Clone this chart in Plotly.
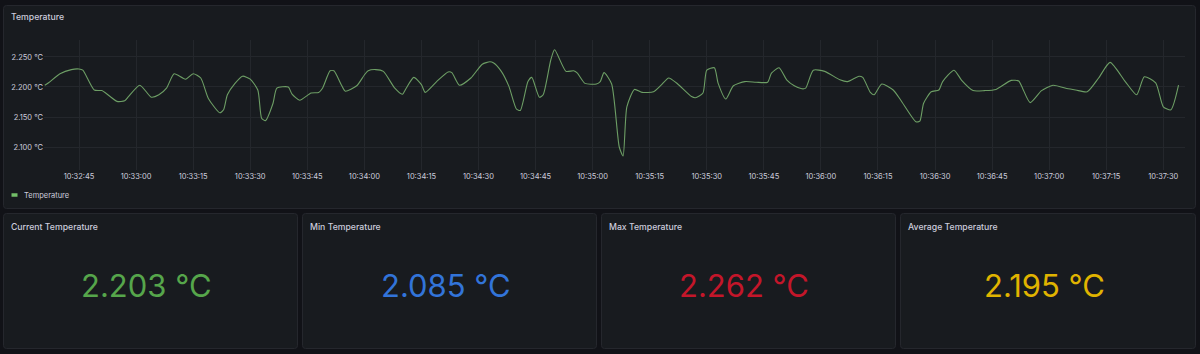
import plotly.graph_objects as go

# ---------------- data ----------------
times = [
    "10:32:36", "10:32:37", "10:32:40", "10:32:43", "10:32:45", "10:32:46", "10:32:49", "10:32:51",
    "10:32:52", "10:32:55", "10:32:57", "10:32:58", "10:33:01", "10:33:04", "10:33:06", "10:33:08",
    "10:33:10", "10:33:13", "10:33:15", "10:33:17", "10:33:19", "10:33:22", "10:33:23", "10:33:24",
    "10:33:26", "10:33:28", "10:33:30", "10:33:32", "10:33:33", "10:33:34", "10:33:36", "10:33:37",
    "10:33:40", "10:33:41", "10:33:43", "10:33:46", "10:33:48", "10:33:49", "10:33:51", "10:33:52",
    "10:33:54", "10:33:55", "10:33:58", "10:34:00", "10:34:01", "10:34:03", "10:34:05", "10:34:08",
    "10:34:10", "10:34:11", "10:34:13", "10:34:15", "10:34:16", "10:34:19", "10:34:22", "10:34:23",
    "10:34:25", "10:34:28", "10:34:31", "10:34:33", "10:34:34", "10:34:36", "10:34:38", "10:34:40",
    "10:34:41", "10:34:43", "10:34:44", "10:34:46", "10:34:47", "10:34:49", "10:34:50", "10:34:53",
    "10:34:55", "10:34:56", "10:34:58", "10:35:01", "10:35:02", "10:35:03", "10:35:05", "10:35:07",
    "10:35:08", "10:35:09", "10:35:11", "10:35:13", "10:35:16", "10:35:18", "10:35:20", "10:35:22",
    "10:35:26", "10:35:27", "10:35:29", "10:35:30", "10:35:32", "10:35:33", "10:35:35", "10:35:37",
    "10:35:40", "10:35:43", "10:35:46", "10:35:47", "10:35:49", "10:35:51", "10:35:53", "10:35:55",
    "10:35:56", "10:35:58", "10:36:01", "10:36:05", "10:36:07", "10:36:10", "10:36:11", "10:36:13",
    "10:36:14", "10:36:16", "10:36:19", "10:36:21", "10:36:25", "10:36:26", "10:36:27", "10:36:29",
    "10:36:31", "10:36:32", "10:36:35", "10:36:37", "10:36:40", "10:36:43", "10:36:46", "10:36:50",
    "10:36:52", "10:36:53", "10:36:55", "10:36:58", "10:37:01", "10:37:05", "10:37:07", "10:37:10",
    "10:37:13", "10:37:16", "10:37:20", "10:37:23", "10:37:25", "10:37:28", "10:37:30", "10:37:32",
    "10:37:34",
]
temperature = [
    2.203, 2.207, 2.222, 2.229, 2.230, 2.228, 2.195, 2.194,
    2.190, 2.176, 2.177, 2.184, 2.203, 2.183, 2.187, 2.198,
    2.222, 2.213, 2.222, 2.215, 2.181, 2.157, 2.162, 2.187,
    2.206, 2.218, 2.213, 2.195, 2.148, 2.144, 2.173, 2.198,
    2.200, 2.188, 2.178, 2.190, 2.191, 2.198, 2.227, 2.227,
    2.203, 2.193, 2.202, 2.220, 2.227, 2.229, 2.226, 2.198,
    2.188, 2.198, 2.216, 2.204, 2.191, 2.209, 2.225, 2.224,
    2.203, 2.215, 2.238, 2.242, 2.240, 2.226, 2.201, 2.163,
    2.161, 2.209, 2.216, 2.183, 2.187, 2.245, 2.262, 2.226,
    2.227, 2.223, 2.206, 2.205, 2.209, 2.224, 2.205, 2.100,
    2.085, 2.167, 2.196, 2.191, 2.192, 2.203, 2.215, 2.207,
    2.184, 2.182, 2.190, 2.228, 2.232, 2.206, 2.180, 2.202,
    2.209, 2.208, 2.208, 2.223, 2.232, 2.212, 2.202, 2.197,
    2.198, 2.228, 2.226, 2.212, 2.209, 2.218, 2.216, 2.191,
    2.187, 2.205, 2.195, 2.178, 2.142, 2.143, 2.173, 2.192,
    2.195, 2.209, 2.228, 2.211, 2.194, 2.194, 2.196, 2.211,
    2.210, 2.198, 2.174, 2.194, 2.203, 2.197, 2.195, 2.192,
    2.215, 2.241, 2.209, 2.187, 2.217, 2.207, 2.167, 2.162,
    2.203,
]
y_ticks = [2.100, 2.150, 2.200, 2.250]
series_name = "Temperature"
panel_title = "Temperature"
stat_titles = ["Current Temperature", "Min Temperature", "Max Temperature", "Average Temperature"]
stat_values = [2.203, 2.085, 2.262, 2.195]
unit = "°C"

# ---------------- style ----------------
W, H = 1200, 354
DAY = "2024-01-01 "
PAGE_BG = "#111217"
PANEL_BG = "#181b1f"
BORDER = "#25272d"
GRID = "#24272c"
TEXT = "#ccccdc"
LINE = "#73BF69"
LINE_DIM = "#6d9e65"
FONT = "Inter"
stat_colors = ["#56A64B", "#3274D9", "#C4162A", "#E0B400"]


def X(px):
    return px / W


def Y(py):
    return 1 - py / H


def rrect(x0, y0, x1, y1, r=3):
    return (f"M {X(x0 + r)},{Y(y0)} L {X(x1 - r)},{Y(y0)} Q {X(x1)},{Y(y0)} {X(x1)},{Y(y0 + r)} "
            f"L {X(x1)},{Y(y1 - r)} Q {X(x1)},{Y(y1)} {X(x1 - r)},{Y(y1)} "
            f"L {X(x0 + r)},{Y(y1)} Q {X(x0)},{Y(y1)} {X(x0)},{Y(y1 - r)} "
            f"L {X(x0)},{Y(y0 + r)} Q {X(x0)},{Y(y0)} {X(x0 + r)},{Y(y0)} Z")


shapes = []
annotations = []

# top panel
shapes.append(dict(type="path", xref="paper", yref="paper", path=rrect(3.5, 5.5, 1195.5, 208.5),
                   fillcolor=PANEL_BG, line=dict(color=BORDER, width=1), layer="below"))
annotations.append(dict(x=X(9), y=Y(17), xref="paper", yref="paper", xanchor="left", yanchor="middle",
                        text=panel_title, showarrow=False,
                        font=dict(family=FONT, size=8.7, color=TEXT, weight=500)))
# legend
shapes.append(dict(type="line", xref="paper", yref="paper", x0=X(11.5), x1=X(17.5), y0=Y(195), y1=Y(195),
                   line=dict(color=LINE, width=3.5)))
annotations.append(dict(x=X(22), y=Y(195), xref="paper", yref="paper", xanchor="left", yanchor="middle",
                        text=series_name, showarrow=False,
                        font=dict(family=FONT, size=7.5, color=TEXT)))

# stat panels
panel_x = [(3.5, 297.5), (302.5, 596.5), (601.5, 895.5), (900.5, 1195.5)]
for (x0, x1), title, val, col in zip(panel_x, stat_titles, stat_values, stat_colors):
    shapes.append(dict(type="path", xref="paper", yref="paper", path=rrect(x0, 213.5, x1, 348.5),
                       fillcolor=PANEL_BG, line=dict(color=BORDER, width=1), layer="below"))
    annotations.append(dict(x=X(x0 + 5.5), y=Y(227), xref="paper", yref="paper", xanchor="left",
                            yanchor="middle", text=title, showarrow=False,
                            font=dict(family=FONT, size=8.7, color=TEXT, weight=500)))
    annotations.append(dict(x=X((x0 + x1) / 2 - 4), y=Y(285), xref="paper", yref="paper", xanchor="center",
                            yanchor="middle", text=f"{val:.3f} {unit}", showarrow=False,
                            font=dict(family=FONT, size=31, color=col)))

fig = go.Figure()
fig.add_trace(go.Scatter(
    x=[DAY + t for t in times], y=temperature, mode="lines", name=series_name,
    line=dict(color=LINE_DIM, width=1.1, shape="spline", smoothing=0.6),
    showlegend=False, hoverinfo="x+y",
))

fig.update_layout(
    width=W, height=H,
    margin=dict(l=0, r=0, t=0, b=0),
    paper_bgcolor=PAGE_BG,
    plot_bgcolor="rgba(0,0,0,0)",
    shapes=shapes,
    annotations=annotations,
    showlegend=False,
    xaxis=dict(
        domain=[X(44), X(1185)],
        type="date",
        range=[DAY + "10:32:35.8", DAY + "10:37:35.7"],
        tick0=DAY + "10:32:45", dtick=15000, tickformat="%H:%M:%S",
        showgrid=True, gridcolor=GRID, gridwidth=1,
        zeroline=False, showline=False, ticks="",
        tickfont=dict(family=FONT, size=7.5, color=TEXT),
        automargin=False,
        fixedrange=True,
    ),
    yaxis=dict(
        domain=[Y(170), Y(40)],
        range=[2.0617, 2.2783],
        tickmode="array",
        tickvals=y_ticks, ticktext=[f"{v:.3f} {unit}" for v in y_ticks],
        showgrid=True, gridcolor=GRID, gridwidth=1,
        zeroline=False, showline=False, ticks="",
        tickfont=dict(family=FONT, size=7.5, color=TEXT),
        automargin=False,
        fixedrange=True,
    ),
)

fig.write_html("out.html")
